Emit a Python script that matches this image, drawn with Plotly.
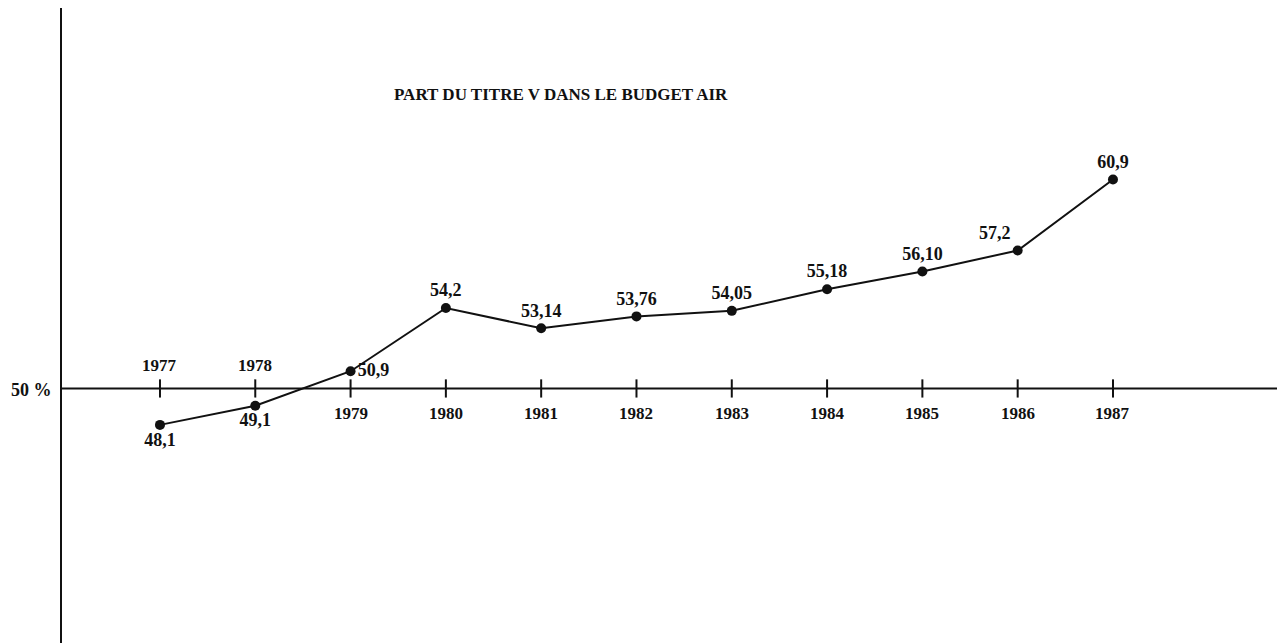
import plotly.graph_objects as go

years = [1977, 1978, 1979, 1980, 1981, 1982, 1983, 1984, 1985, 1986, 1987]
shares = [48.1, 49.1, 50.9, 54.2, 53.14, 53.76, 54.05, 55.18, 56.10, 57.2, 60.9]
value_labels = ["48,1", "49,1", "50,9", "54,2", "53,14", "53,76", "54,05", "55,18", "56,10", "57,2", "60,9"]
year_labels = [str(y) for y in years]
title_text = "PART DU TITRE V DANS LE BUDGET AIR"
ref_level = 50
ref_label = "50 %"

FONT = "Liberation Serif"
INK = "#111111"

value_pos = ["bottom center", "bottom center", "middle right"] + ["top center"] * 6 + ["top left", "top center"]
# years above the reference line for the first two, below for the rest
year_above = [True, True] + [False] * 9

fig = go.Figure()

# tick marks on the reference line
fig.add_trace(go.Scatter(
    x=years, y=[ref_level] * len(years), mode="markers",
    marker=dict(symbol="line-ns", size=13, line=dict(width=2, color=INK)),
    hoverinfo="skip", showlegend=False,
))

fig.add_trace(go.Scatter(
    x=years, y=shares, mode="lines+markers+text",
    line=dict(color=INK, width=2),
    marker=dict(size=10, color=INK),
    text=["<b>" + t + "</b>" for t in value_labels], textposition=value_pos,
    textfont=dict(family=FONT, size=18, color=INK),
    showlegend=False,
))

fig.add_shape(type="line", xref="paper", yref="y", x0=0, x1=1, y0=ref_level, y1=ref_level,
              line=dict(color=INK, width=2))

for yr, lab, above in zip(years, year_labels, year_above):
    fig.add_annotation(x=yr, y=ref_level, text="<b>" + lab + "</b>", showarrow=False,
                       yshift=23 if above else -25,
                       font=dict(family=FONT, size=17, color=INK))

fig.add_annotation(xref="paper", yref="y", x=0, y=ref_level, text="<b>" + ref_label + "</b>",
                   showarrow=False, xanchor="right", yanchor="middle", xshift=-8, yshift=-2,
                   font=dict(family=FONT, size=18, color=INK))

fig.add_annotation(xref="paper", yref="paper", x=0.408, y=0.8645, text="<b>" + title_text + "</b>",
                   showarrow=False, xanchor="center", yanchor="middle",
                   font=dict(family=FONT, size=17, color=INK))

fig.update_layout(
    width=1277, height=635,
    margin=dict(l=54, r=0, t=0, b=0),
    paper_bgcolor="white", plot_bgcolor="white",
    xaxis=dict(range=[1975.972, 1988.805], showgrid=False, zeroline=False, showticklabels=False,
               ticks="", showline=False),
    yaxis=dict(range=[36.72, 69.85], showgrid=False, zeroline=False, showticklabels=False,
               ticks="", showline=True, linecolor=INK, linewidth=2),
)

fig.write_html("out.html")
